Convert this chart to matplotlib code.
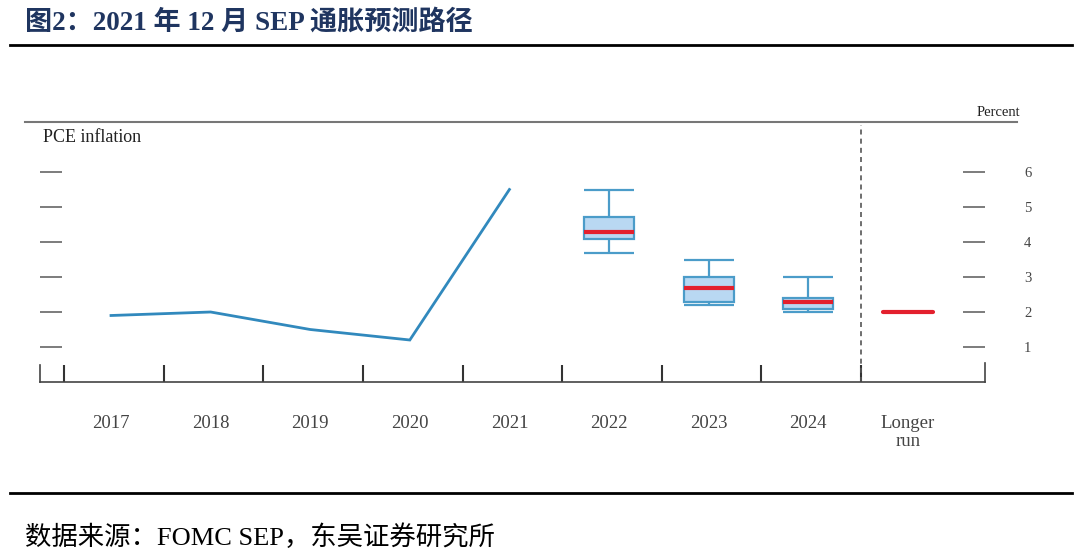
import matplotlib.pyplot as plt
from matplotlib.lines import Line2D

plt.rcParams['font.family'] = ['Liberation Serif', 'Noto Sans CJK SC']

# Data
years = ["2017", "2018", "2019", "2020", "2021", "2022", "2023", "2024", "Longer\nrun"]
hist_years = [0, 1, 2, 3, 4]
hist_pce = [1.9, 2.0, 1.5, 1.2, 5.5]

proj_pos = [5, 6, 7]
proj_low = [3.7, 2.2, 2.0]
proj_q1 = [4.1, 2.3, 2.1]
proj_median = [4.3, 2.7, 2.3]
proj_q3 = [4.7, 3.0, 2.4]
proj_high = [5.5, 3.5, 3.0]

longer_run_pos = 8
longer_run_median = 2.0

yticks = [1, 2, 3, 4, 5, 6]

line_color = "#3189bd"
box_fill = "#b9d8f2"
box_edge = "#4b9cc9"
median_color = "#e3202d"

fig = plt.figure(figsize=(10.8, 5.56), dpi=100)

# Title and separators
fig.text(25 / 1080, 1 - 23 / 556, "图2：2021 年 12 月 SEP 通胀预测路径", fontsize=19.5,
         fontweight="bold", color="#1f3560", va="center", ha="left")
fig.add_artist(Line2D([10 / 1080, 1072 / 1080], [1 - 45 / 556] * 2, color="black", lw=2))
fig.add_artist(Line2D([10 / 1080, 1072 / 1080], [1 - 493 / 556] * 2, color="black", lw=2))
fig.text(25 / 1080, 1 - 537 / 556, "数据来源：FOMC SEP，东吴证券研究所", fontsize=19,
         color="black", va="center", ha="left")

# Chart area
ax = fig.add_axes([40 / 1080, 1 - 382 / 556, 945 / 1080, 260 / 556])
ax.set_xlim(-0.713, 8.775)
ax.set_ylim(0, 260 / 35)

for s in ["top", "left", "right"]:
    ax.spines[s].set_visible(False)
ax.spines["bottom"].set_color("#444444")
ax.spines["bottom"].set_linewidth(1.2)

# top rule of chart
fig.add_artist(Line2D([25 / 1080, 1017 / 1080], [1 - 122 / 556] * 2, color="#777777", lw=1.5))

# history line
ax.plot(hist_years, hist_pce, color=line_color, lw=2, solid_joinstyle="miter")

# projection boxes
bw = 0.5
for p, lo, q1, md, q3, hi in zip(proj_pos, proj_low, proj_q1, proj_median, proj_q3, proj_high):
    ax.add_patch(plt.Rectangle((p - bw / 2, q1), bw, q3 - q1, facecolor=box_fill,
                               edgecolor=box_edge, lw=1.6, zorder=3))
    ax.vlines(p, q3, hi, color=box_edge, lw=1.6, zorder=2)
    ax.vlines(p, lo, q1, color=box_edge, lw=1.6, zorder=2)
    ax.hlines([lo, hi], p - bw / 2, p + bw / 2, color=box_edge, lw=1.6, zorder=2)
    ax.hlines(md, p - bw / 2, p + bw / 2, color=median_color, lw=3, zorder=4)

ax.hlines(longer_run_median, longer_run_pos - bw / 2, longer_run_pos + bw / 2,
          color=median_color, lw=3, capstyle="round")

# separator before longer run
ax.axvline(longer_run_pos - 0.47, ymin=0, ymax=257 / 260, color="#555555", lw=1.2,
           linestyle=(0, (3, 2.5)))

# y ticks as dashes at both sides
ax.set_yticks(yticks)
ax.tick_params(axis="y", which="major", direction="in", length=16, width=1.2,
               color="#666666", left=True, right=True, labelleft=False,
               labelright=True, pad=28, labelsize=10.5, labelcolor="#444444")

# x ticks at period boundaries, labels at centers
ax.set_xticks([i - 0.47 for i in range(len(years))])
ax.set_xticklabels([])
ax.tick_params(axis="x", which="major", direction="in", length=12, width=1.5,
               color="#333333")
ax.set_xticks(range(len(years)), minor=True)
ax.set_xticklabels(years, minor=True, fontsize=13.5, color="#444444", linespacing=1.05)
ax.tick_params(axis="x", which="minor", length=0, pad=24)

# axis end marks
ax.plot([0, 0], [0, 17 / 260], transform=ax.transAxes, color="#444444", lw=1.2, clip_on=False)
ax.plot([1, 1], [0, 19 / 260], transform=ax.transAxes, color="#444444", lw=1.2, clip_on=False)

ax.text(43 / 1080, 1 - 138 / 556, "PCE inflation", transform=fig.transFigure, fontsize=13,
        color="#222222", va="center", ha="left")
fig.text(998 / 1080, 1 - 112 / 556, "Percent", fontsize=10.5, color="#222222",
         va="center", ha="center")

fig.savefig("out.png", dpi=100)
